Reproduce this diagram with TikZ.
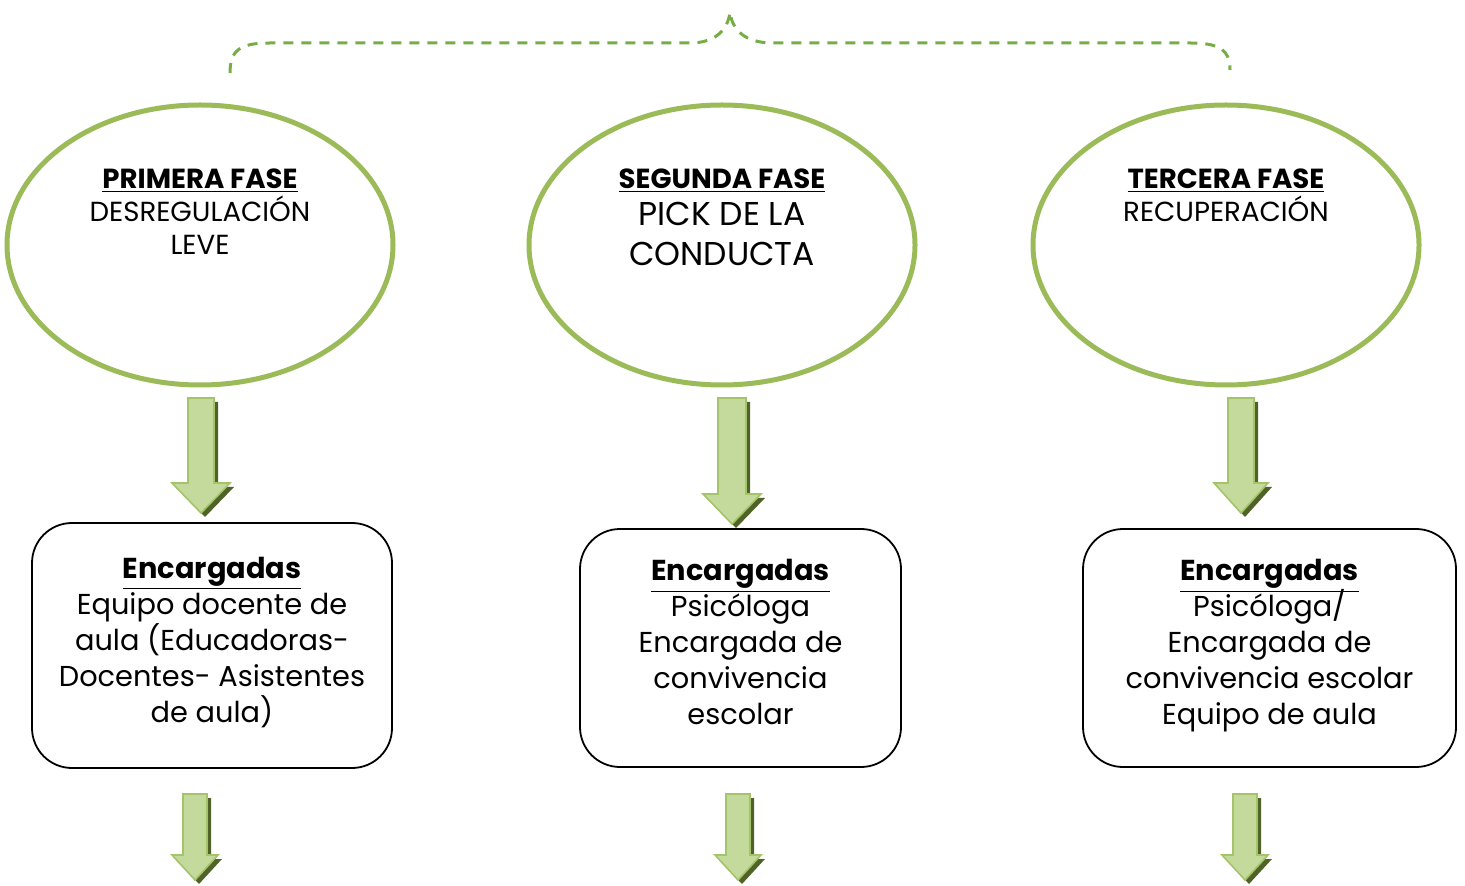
\documentclass[tikz,border=0pt]{standalone}
\usepackage{fontspec}
\setmainfont{Poppins}
\usetikzlibrary{shapes.geometric}

\definecolor{fasegreen}{HTML}{9BBB59}
\definecolor{bracegreen}{HTML}{77AD47}
\definecolor{arrowlight}{HTML}{C4D99C}
\definecolor{arrowmid}{HTML}{8CAE48}
\definecolor{arrowedge}{HTML}{A5C46A}
\definecolor{arrowshadow}{HTML}{4F6228}

\tikzset{
  fase/.style={ellipse, draw=fasegreen, line width=2.5pt, minimum width=193pt, minimum height=140pt},
  encargo/.style={draw, rounded corners=20pt, line width=0.9pt, align=center,
    font=\fontsize{14.4}{18}\selectfont, execute at begin node={\lineskiplimit=-20pt}},
  fasetext/.style={align=center, inner sep=0pt, anchor=north},
}

% block arrow: centre x, top y, tip y, half shaft, half head, head length
\newcommand{\flecha}[6]{%
  \fill[arrowshadow, shift={(4,4)}] ({#1-#4},#2) -- ({#1+#4},#2) -- ({#1+#4},{#3-#6}) -- ({#1+#5},{#3-#6})
    -- (#1,#3) -- ({#1-#5},{#3-#6}) -- ({#1-#4},{#3-#6}) -- cycle;
  \shadedraw[top color=arrowlight, middle color=arrowmid, bottom color=arrowlight, draw=arrowedge, line width=0.8pt]
    ({#1-#4},#2) -- ({#1+#4},#2) -- ({#1+#4},{#3-#6}) -- ({#1+#5},{#3-#6})
    -- (#1,#3) -- ({#1-#5},{#3-#6}) -- ({#1-#4},{#3-#6}) -- cycle;
}
\newcommand{\titulo}[1]{\textbf{\underline{#1}}}

\begin{document}
\begin{tikzpicture}[x=0.5pt, y=-0.5pt]
  \useasboundingbox (0,0) rectangle (1465,886);

  % brace over the three phases
  \draw[bracegreen, line width=1.5pt, dash pattern=on 5pt off 4pt]
    (230,73) .. controls (230,50) and (240,43) .. (270,43) -- (690,43)
    .. controls (715,43) and (728,30) .. (730,12)
    .. controls (732,30) and (745,43) .. (773,43) -- (1190,43)
    .. controls (1220,43) and (1230,50) .. (1230,70);

  \node[fase] (f1) at (200,245) {};
  \node[fase] (f2) at (722,245) {};
  \node[fase] (f3) at (1226,245) {};

  \node[fasetext, font=\fontsize{13.8}{16.5}\selectfont] (t1) at (200,168)
    {\titulo{PRIMERA FASE}\\DESREGULACIÓN\\LEVE};
  \node[fasetext, font=\fontsize{16.5}{20}\selectfont] (t2) at (722,168)
    {{\fontsize{13.8}{16.5}\selectfont\titulo{SEGUNDA FASE}}\\[-1.5pt]PICK DE LA\\CONDUCTA};
  \node[fasetext, font=\fontsize{13.8}{16.5}\selectfont] (t3) at (1226,168)
    {\titulo{TERCERA FASE}\\RECUPERACIÓN};

  \flecha{201}{398}{513}{13}{29}{30}
  \flecha{732}{398}{524}{14}{29}{30}
  \flecha{1241}{398}{513}{13}{27}{30}

  \node[encargo, minimum width=180pt, minimum height=122.5pt] (b1) at (212,645.5)
    {\titulo{Encargadas}\\Equipo docente de\\aula (Educadoras-\\Docentes- Asistentes\\de aula)\\[-12pt]};
  \node[encargo, minimum width=160.5pt, minimum height=119pt] (b2) at (740.5,648)
    {\titulo{Encargadas}\\Psicóloga\\Encargada de\\convivencia\\escolar\\[-12pt]};
  \node[encargo, minimum width=186.5pt, minimum height=119pt] (b3) at (1269.5,648)
    {\titulo{Encargadas}\\Psicóloga/\\Encargada de\\convivencia escolar\\Equipo de aula\\[-12pt]};

  \flecha{195}{794}{880}{12}{23}{25}
  \flecha{738}{794}{880}{12}{23}{25}
  \flecha{1245}{794}{880}{12}{23}{25}
\end{tikzpicture}
\end{document}
